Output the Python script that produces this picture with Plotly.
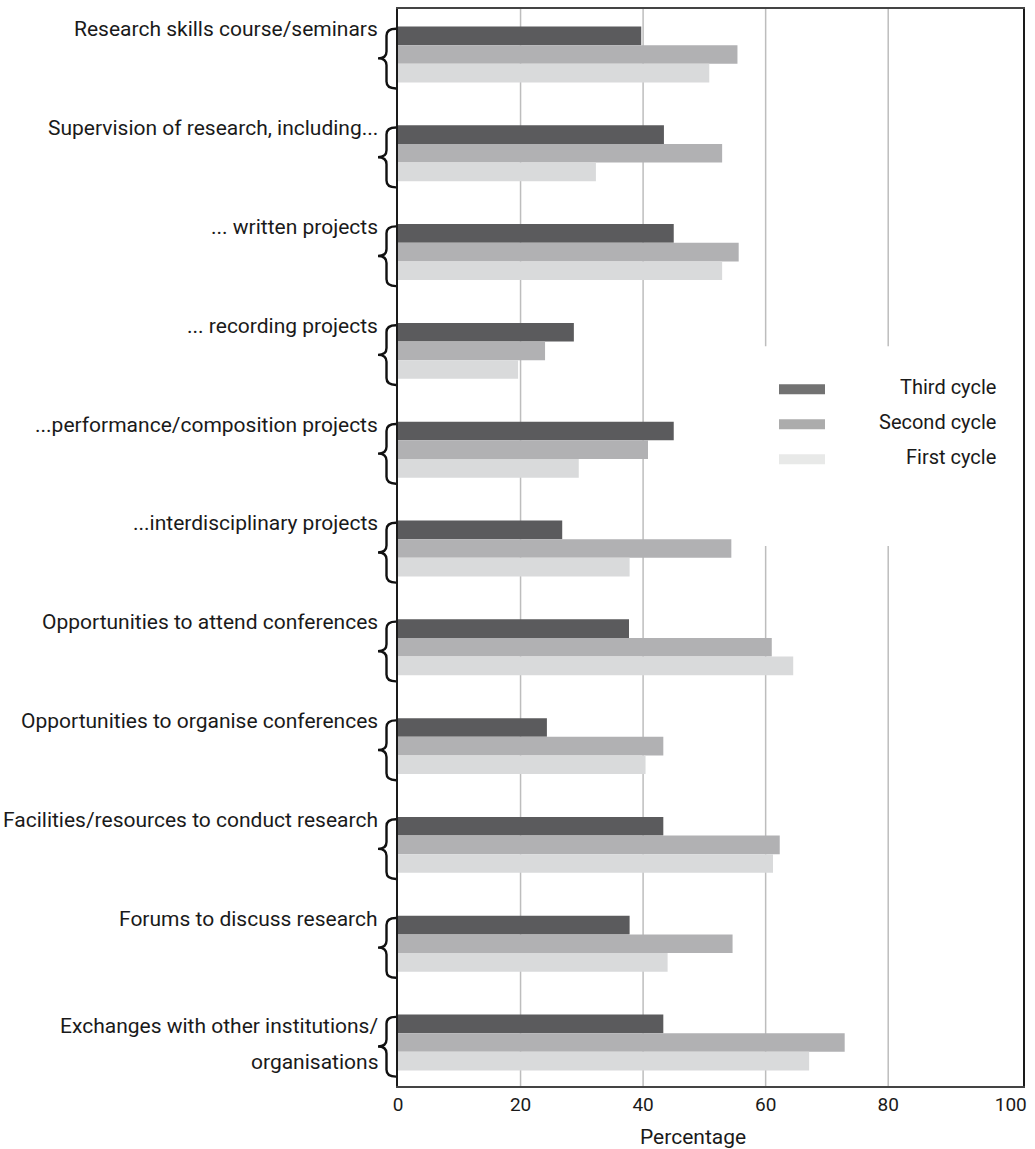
import plotly.graph_objects as go

categories = [
    "Research skills course/seminars",
    "Supervision of research, including...",
    "... written projects",
    "... recording projects",
    "...performance/composition projects",
    "...interdisciplinary projects",
    "Opportunities to attend conferences",
    "Opportunities to organise conferences",
    "Facilities/resources to conduct research",
    "Forums to discuss research",
    "Exchanges with other institutions/<br>organisations",
]
third_cycle = [39.7, 43.4, 45.0, 28.7, 45.0, 26.8, 37.7, 24.3, 43.3, 37.8, 43.3]
second_cycle = [55.4, 52.9, 55.6, 24.0, 40.8, 54.4, 61.0, 43.3, 62.3, 54.6, 72.9]
first_cycle = [50.8, 32.3, 52.9, 19.6, 29.5, 37.8, 64.5, 40.4, 61.2, 44.0, 67.1]

series_names = ["Third cycle", "Second cycle", "First cycle"]
bar_colors = ["#5b5b5d", "#b1b1b3", "#d9dadb"]
legend_colors = ["#727272", "#acacac", "#e8e9e8"]
x_ticks = [0, 20, 40, 60, 80, 100]
grid_vals = [20, 40, 60, 80]

W, H = 1035, 1149
L, R, T, B = 398, 1023, 7, 1086
FONT = "Roboto"
TXT = "#1a1a1a"


def px_x(p):
    return (p - L) / (R - L)


def px_y(p):
    return 1 - (p - T) / (B - T)


fig = go.Figure()
for name, vals, col in zip(series_names, [third_cycle, second_cycle, first_cycle], bar_colors):
    fig.add_trace(go.Bar(x=vals, y=categories, name=name, orientation="h",
                         marker=dict(color=col, line=dict(width=0)), showlegend=False))

# grid lines (only the inner ones)
for v in grid_vals:
    fig.add_vline(x=v, line=dict(color="#bdbdbd", width=1.5), layer="below")

# category labels + braces
for i, cat in enumerate(categories):
    lines = cat.split("<br>")
    n = len(lines)
    for k, ln in enumerate(lines):
        fig.add_annotation(x=px_x(380), xref="paper", y=i, yref="y", text=ln,
                           xanchor="right", yanchor="middle", showarrow=False,
                           yshift=25 - 8 * (n - 1) - 36 * k,
                           font=dict(family=FONT, size=21, color=TXT))
    xr, xm, xl = px_x(396), px_x(386.5), px_x(378)
    t, m, b, d = i - 0.26, i + 0.04, i + 0.345, 0.07
    path = (f"M {xr},{t} Q {xm},{t} {xm},{t + d} L {xm},{m - d} "
            f"Q {xm},{m} {xl},{m} Q {xm},{m} {xm},{m + d} "
            f"L {xm},{b - d} Q {xm},{b} {xr},{b}")
    fig.add_shape(type="path", path=path, xref="paper", yref="y",
                  line=dict(color="#111111", width=2.4))

# legend box
fig.add_shape(type="rect", xref="paper", yref="paper",
              x0=px_x(745), x1=px_x(1015), y0=px_y(545), y1=px_y(345),
              fillcolor="white", line=dict(width=0), layer="above")
for k, (name, col) in enumerate(zip(series_names, legend_colors)):
    yc = 388 + 35 * k
    fig.add_shape(type="rect", xref="paper", yref="paper",
                  x0=px_x(779), x1=px_x(825), y0=px_y(yc + 5), y1=px_y(yc - 5),
                  fillcolor=col, line=dict(width=0), layer="above")
    fig.add_annotation(x=px_x(998), xref="paper", y=px_y(yc - 2), yref="paper",
                       text=name, xanchor="right", yanchor="middle", showarrow=False,
                       font=dict(family=FONT, size=20, color=TXT))

fig.add_annotation(x=px_x(693), xref="paper", y=px_y(1137), yref="paper",
                   text="Percentage", xanchor="center", yanchor="middle", showarrow=False,
                   font=dict(family=FONT, size=21, color=TXT))

fig.update_layout(
    width=W, height=H,
    margin=dict(l=L, r=W - R, t=T, b=H - B),
    paper_bgcolor="white", plot_bgcolor="white",
    barmode="group", bargap=0.434, bargroupgap=0,
    font=dict(family=FONT, size=18, color=TXT),
    xaxis=dict(range=[0, 102], tickvals=x_ticks, showgrid=False, zeroline=False,
               showline=True, linecolor="#444444", linewidth=2, mirror=True,
               ticks="", tickfont=dict(size=19, color=TXT)),
    yaxis=dict(type="category", range=[10.44, -0.46], showticklabels=False,
               showgrid=False, zeroline=False, showline=True, linecolor="#1a1a1a",
               linewidth=2, mirror=True, ticks=""),
)

fig.write_html("out.html", config={"displayModeBar": False},
               post_script="document.body.style.margin='0';")
